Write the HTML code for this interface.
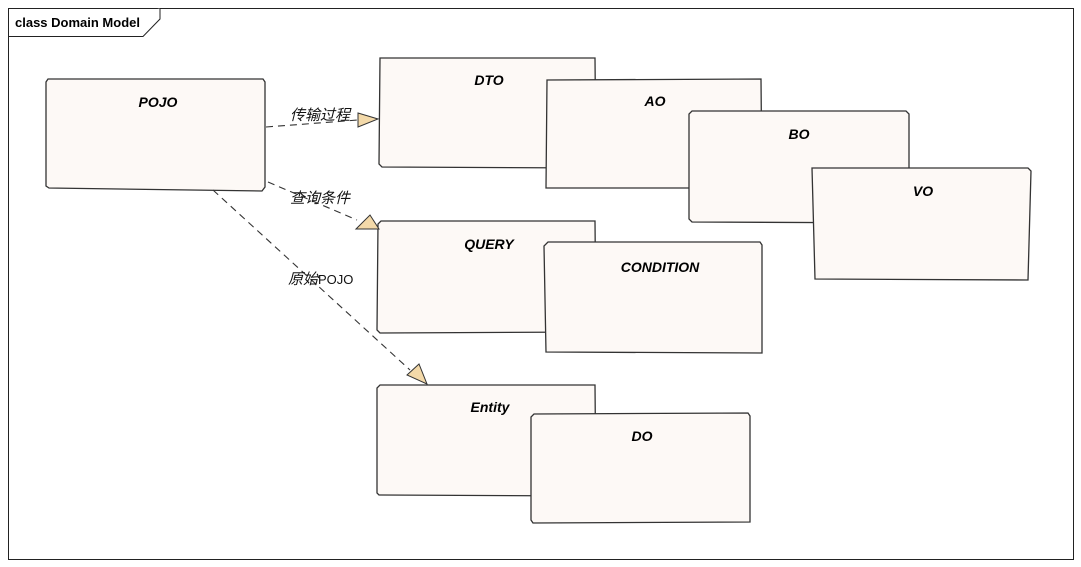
<!DOCTYPE html>
<html><head><meta charset="utf-8"><style>
html,body{margin:0;padding:0;background:#fff;width:1081px;height:567px;overflow:hidden}
svg{display:block}
.b{fill:#fdf9f6;stroke:#333;stroke-width:1.3}
.t{font-family:"Liberation Sans",sans-serif;font-weight:bold;font-style:italic;font-size:14px;fill:#000;text-anchor:middle}
.l{font-family:"Liberation Sans","Noto Sans CJK SC",sans-serif;font-style:italic;font-size:15px;fill:#111}
.d{stroke:#333;stroke-width:1.1;stroke-dasharray:7,5;fill:none}
.a{fill:#f3d9a9;stroke:#333;stroke-width:1}
</style></head><body>
<svg width="1081" height="567" viewBox="0 0 1081 567">
<rect x="8.5" y="8.5" width="1065" height="551" fill="#fff" stroke="#222" stroke-width="1"/>
<path d="M8.5 36.5 H143 L160 19 V8.5" fill="#fff" stroke="#222" stroke-width="1"/>
<text x="15" y="27" font-family="Liberation Sans,sans-serif" font-weight="bold" font-size="13">class Domain Model</text>

<path class="b" d="M48 79 L263 79 L265 82 L265 187 L262 191 L49 188 L46 186 L46 82 Z"/>
<text class="t" x="158" y="107">POJO</text>

<path class="b" d="M380 58 L595 58 L596 168 L382 167 L379 164 Z"/>
<text class="t" x="489" y="85">DTO</text>
<path class="b" d="M547 80 L761 79 L762 188 L546 188 Z"/>
<text class="t" x="655" y="106">AO</text>
<path class="b" d="M692 111 L906 111 L909 114 L909 223 L692 222 L689 219 L689 114 Z"/>
<text class="t" x="799" y="139">BO</text>
<path class="b" d="M813 168 L1028 168 L1031 171 L1028 280 L815 279 L812 168 Z"/>
<text class="t" x="923" y="196">VO</text>

<path class="b" d="M381 221 L595 221 L596 332 L380 333 L377 330 L378 224 Z"/>
<text class="t" x="489" y="249">QUERY</text>
<path class="b" d="M548 242 L760 242 L762 245 L762 353 L546 352 L544 246 Z"/>
<text class="t" x="660" y="272">CONDITION</text>

<path class="b" d="M380 385 L595 385 L596 496 L379 495 L377 493 L377 388 Z"/>
<text class="t" x="490" y="412">Entity</text>
<path class="b" d="M534 414 L748 413 L750 416 L750 522 L533 523 L531 520 L531 417 Z"/>
<text class="t" x="642" y="441">DO</text>

<path class="d" d="M266 127 L358 120"/>
<polygon class="a" points="358,113 378,119 358,127"/>
<text class="l" x="290" y="120">传输过程</text>

<path class="d" d="M268 182 L357 220"/>
<polygon class="a" points="356,229 370,215 379,229"/>
<text class="l" x="290" y="203">查询条件</text>

<path class="d" d="M213 190 L410 370"/>
<polygon class="a" points="407,375 419,364 427,384"/>
<text class="l" x="288" y="284">原始<tspan font-style="normal" font-size="13">POJO</tspan></text>
</svg>
</body></html>
